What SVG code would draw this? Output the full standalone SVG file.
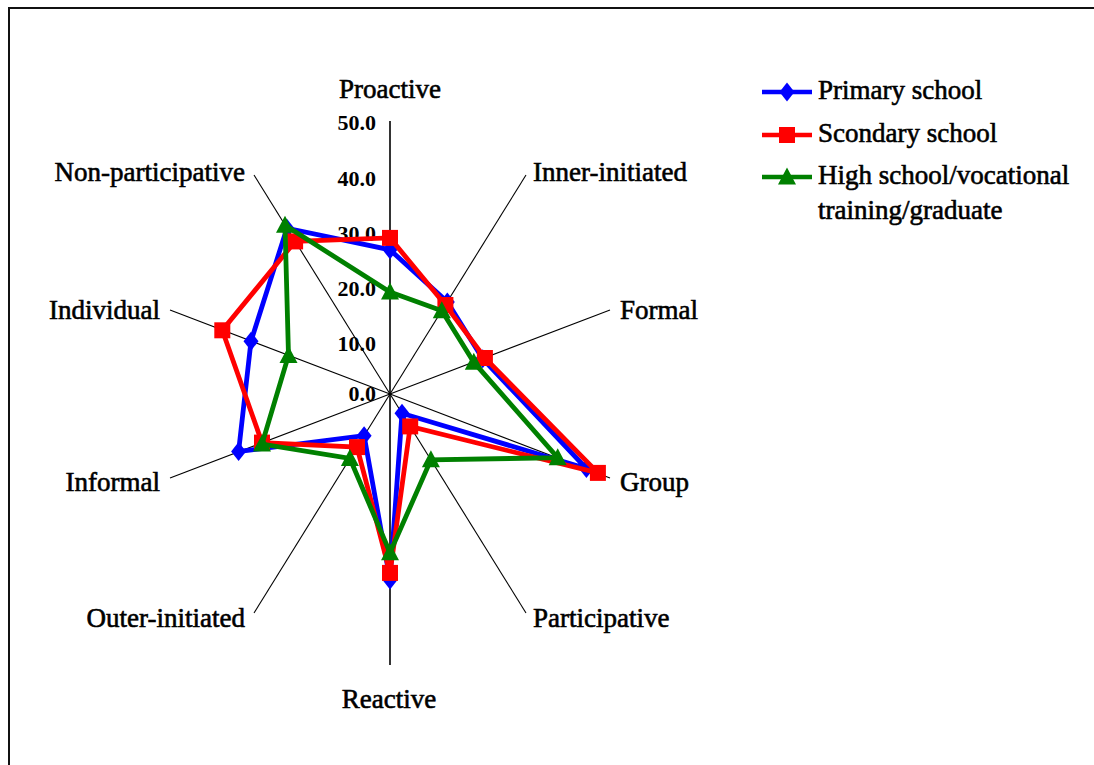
<svg xmlns="http://www.w3.org/2000/svg" width="1094" height="765" viewBox="0 0 1094 765">
<style>
.lbl{font-family:"Liberation Serif","Times New Roman",serif;font-size:27px;fill:#000;stroke:#000;stroke-width:0.6px}
.tick{font-family:"Liberation Serif","Times New Roman",serif;font-size:22px;font-weight:bold;fill:#000;text-anchor:end}
.spoke{stroke:#000;stroke-width:1.1;fill:none}
.main{stroke:#000;stroke-width:1.6;fill:none}
.ser{fill:none;stroke-width:4.8;stroke-linejoin:miter}
</style>
<defs>
<marker id="mDia" markerUnits="userSpaceOnUse" viewBox="-9 -10 18 20" markerWidth="18" markerHeight="20" refX="0" refY="0" orient="0">
<path d="M0,-9.5 L7.5,0 L0,9.5 L-7.5,0Z" fill="#0000FF"/>
</marker>
<marker id="mSq" markerUnits="userSpaceOnUse" viewBox="-9 -9 18 18" markerWidth="18" markerHeight="18" refX="0" refY="0" orient="0">
<rect x="-8" y="-8" width="16" height="16" fill="#FF0000"/>
</marker>
<marker id="mTri" markerUnits="userSpaceOnUse" viewBox="-10 -10 20 20" markerWidth="20" markerHeight="20" refX="0" refY="0" orient="0">
<path d="M0,-9.5 L9,7.5 L-9,7.5Z" fill="#008000"/>
</marker>
</defs>
<rect x="0" y="0" width="1094" height="765" fill="#fff"/>
<path d="M9,765 V8 H1094" fill="none" stroke="#111" stroke-width="2"/>

<g id="axes">
<line class="main" x1="390" y1="394" x2="390" y2="121"/>
<line class="spoke" x1="390" y1="394" x2="526" y2="175"/>
<line class="spoke" x1="390" y1="394" x2="610" y2="310"/>
<line class="spoke" x1="390" y1="394" x2="610" y2="478"/>
<line class="spoke" x1="390" y1="394" x2="526" y2="613"/>
<line class="main" x1="390" y1="394" x2="390" y2="665"/>
<line class="spoke" x1="390" y1="394" x2="254" y2="613"/>
<line class="spoke" x1="390" y1="394" x2="170" y2="478"/>
<line class="spoke" x1="390" y1="394" x2="170" y2="310"/>
<line class="spoke" x1="390" y1="394" x2="254" y2="175"/>
</g>

<g id="ticks">
<text class="tick" x="376" y="130">50.0</text>
<text class="tick" x="376" y="186">40.0</text>
<text class="tick" x="376" y="241">30.0</text>
<text class="tick" x="376" y="296">20.0</text>
<text class="tick" x="376" y="351">10.0</text>
<text class="tick" x="376" y="401">0.0</text>
</g>

<g id="series-primary">
<polygon class="ser" stroke="#0000FF" marker-start="url(#mDia)" marker-mid="url(#mDia)" points="390,249.8 447.3,301.9 482.7,358.8 586.4,468.5 402,413.3 390,579.9 364.1,435.7 238.6,451.5 251,341.2 286.9,228.2"/>
</g>
<g id="series-secondary">
<polygon class="ser" stroke="#FF0000" marker-start="url(#mSq)" marker-mid="url(#mSq)" points="390,237.9 445.4,305 484.9,358 597.9,472.9 410.2,426.4 390,572.9 357,447.1 262,442.6 222.3,330.3 295.1,241.4"/>
</g>
<g id="series-high">
<polygon class="ser" stroke="#008000" marker-start="url(#mTri)" marker-mid="url(#mTri)" points="390,292.1 441.8,310.7 473.8,362.2 557.7,457.7 430.9,459.8 390,552.8 349.9,458.5 262,444 288.5,355.5 285,225.2"/>
</g>

<g id="axis-labels">
<text id="lbl-proactive" class="lbl" x="390" y="98" text-anchor="middle">Proactive</text>
<text id="lbl-inner" class="lbl" x="533" y="181">Inner-initiated</text>
<text id="lbl-formal" class="lbl" x="620" y="319">Formal</text>
<text id="lbl-group" class="lbl" x="620" y="491">Group</text>
<text id="lbl-participative" class="lbl" x="533" y="627">Participative</text>
<text id="lbl-reactive" class="lbl" x="389" y="708" text-anchor="middle">Reactive</text>
<text id="lbl-outer" class="lbl" x="245" y="627" text-anchor="end">Outer-initiated</text>
<text id="lbl-informal" class="lbl" x="160" y="491" text-anchor="end">Informal</text>
<text id="lbl-individual" class="lbl" x="160" y="319" text-anchor="end">Individual</text>
<text id="lbl-nonpart" class="lbl" x="245" y="181" text-anchor="end">Non-participative</text>
</g>

<g id="legend">
<g id="leg-primary">
<path d="M762,92 H787 H812" stroke="#0000FF" stroke-width="4.5" fill="none" marker-mid="url(#mDia)"/>
<text class="lbl" x="818" y="99">Primary school</text>
</g>
<g id="leg-secondary">
<path d="M762,135 H787 H812" stroke="#FF0000" stroke-width="4.5" fill="none" marker-mid="url(#mSq)"/>
<text class="lbl" x="818" y="142">Scondary school</text>
</g>
<g id="leg-high">
<path d="M762,177 H787 H812" stroke="#008000" stroke-width="4.5" fill="none" marker-mid="url(#mTri)"/>
<text class="lbl" x="818" y="184">High school/vocational</text>
<text class="lbl" x="818" y="219">training/graduate</text>
</g>
</g>
</svg>
